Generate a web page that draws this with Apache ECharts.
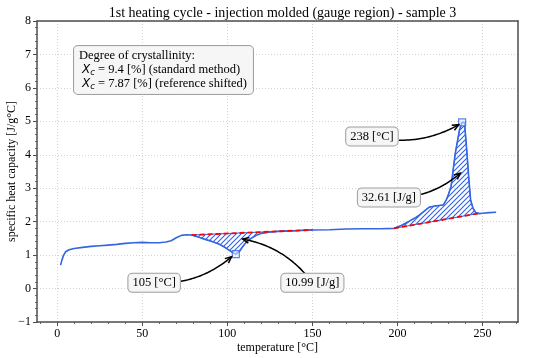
<!DOCTYPE html>
<html><head><meta charset="utf-8">
<script src="https://cdn.jsdelivr.net/npm/echarts@6/dist/echarts.min.js"></script>
<style>html,body{margin:0;padding:0;background:#fff}#c{width:550px;height:358px}</style>
</head><body><div id="c"></div>
<script>
// ---------- data ----------
const temperature = [2.0,2.8,3.8,5.0,7.0,10,15,20,25,30,35,40,45,50,55,60,64,67,70,73,76,79,83,87,91,95,98,101,103,105,107,109,111,114,117,120,125,130,140,150,160,170,180,190,198,202,206.5,210,213,218.5,222,227,228.7,230,231.5,234,236.5,238,239.4,240.7,242,243,244.4,246,248,250,254,258];
const heatCapacity = [0.70,0.85,1.00,1.10,1.16,1.20,1.23,1.26,1.28,1.30,1.32,1.35,1.37,1.38,1.37,1.37,1.39,1.43,1.52,1.59,1.61,1.60,1.54,1.47,1.41,1.33,1.25,1.15,1.08,1.03,1.10,1.25,1.38,1.50,1.59,1.65,1.69,1.71,1.73,1.75,1.76,1.78,1.79,1.79,1.80,1.88,2.00,2.10,2.20,2.43,2.47,2.50,2.65,2.82,3.05,4.05,4.75,4.97,4.97,4.15,3.25,2.65,2.40,2.27,2.24,2.25,2.27,2.28];
const baselineStartT = [79, 198];
const baselineStartCp = [1.60, 1.80];
const baselineEndT = [150, 248];
const baselineEndCp = [1.755, 2.25];
const peakT = [105, 238];
const peakCp = [1.03, 4.97];
const enthalpy = [10.99, 32.61];
const crystallinity = [9.4, 7.87];
const xTicks = [0, 50, 100, 150, 200, 250];
const xMinorTicks = [-10,10,20,30,40,60,70,80,90,110,120,130,140,160,170,180,190,210,220,230,240,260,270];
const xMin = -11.85, xMax = 270.85;
const yMin = -1, yMax = 8;
// annotation targets (data coords) and label centres
const annTargets = [[102.5,0.95],[109,1.48],[236,4.9],[237,3.45]];
const annLabelAt = [[57,0.17],[150,0.17],[185,4.55],[195,2.72]];

// ---------- styling ----------
const BLUE = '#3366e0';
const HATCH = '#2f62ee';
const FONT = '"Liberation Serif", "Times New Roman", serif';
const annTexts = [
  peakT[0] + ' [°C]', enthalpy[0].toFixed(2) + ' [J/g]',
  peakT[1] + ' [°C]', enthalpy[1].toFixed(2) + ' [J/g]'
];

function hatchCanvas() {
  const s = 5, c = document.createElement('canvas');
  c.width = s; c.height = s;
  const g = c.getContext('2d');
  g.strokeStyle = HATCH; g.lineWidth = 1.1;
  g.beginPath();
  g.moveTo(0, s); g.lineTo(s, 0);
  g.moveTo(-1, 1); g.lineTo(1, -1);
  g.moveTo(s - 1, s + 1); g.lineTo(s + 1, s - 1);
  g.stroke();
  return c;
}
const hatch = hatchCanvas();

const mctx = document.createElement('canvas').getContext('2d');
mctx.font = '12.5px ' + FONT;

const curve = temperature.map((t, i) => [t, heatCapacity[i]]);

const chart = echarts.init(document.getElementById('c'), null, {renderer: 'canvas'});

const axisLineStyle = {color: '#4d4d4d', width: 1.5};
const gridLine = {show: true, lineStyle: {color: '#c8c8c8', width: 0.8, type: [1, 2]}};

chart.setOption({
  animation: false,
  backgroundColor: '#fff',
  title: {
    text: '1st heating cycle - injection molded (gauge region) - sample 3',
    left: 277.5, textAlign: 'center', top: 1,
    textStyle: {fontFamily: FONT, fontSize: 14, fontWeight: 'normal', color: '#000'}
  },
  grid: {left: 37, right: 32, top: 21, bottom: 36, containLabel: false, outerBoundsMode: 'none'},
  xAxis: [
    {
      type: 'value', min: xMin, max: xMax, position: 'bottom',
      name: 'temperature [°C]', nameLocation: 'middle', nameGap: 20, nameMoveOverlap: false,
      nameTextStyle: {fontFamily: FONT, fontSize: 12, color: '#000'},
      axisLine: {show: true, onZero: false, lineStyle: axisLineStyle},
      axisTick: {show: true, customValues: xTicks, length: 4, lineStyle: {color: '#4d4d4d', width: 1}},
      axisLabel: {customValues: xTicks, fontFamily: FONT, fontSize: 12, color: '#000', margin: 6},
      splitLine: gridLine
    },
    {
      type: 'value', min: xMin, max: xMax, position: 'bottom',
      axisLine: {show: false, onZero: false},
      axisTick: {show: true, customValues: xMinorTicks, length: 2, lineStyle: {color: '#4d4d4d', width: 0.8}},
      axisLabel: {show: false}, splitLine: {show: false}
    },
    {
      type: 'value', min: xMin, max: xMax, position: 'top',
      axisLine: {show: true, onZero: false, lineStyle: axisLineStyle},
      axisTick: {show: false}, axisLabel: {show: false}, splitLine: {show: false}
    }
  ],
  yAxis: [
    {
      type: 'value', min: yMin, max: yMax, interval: 1, position: 'left',
      name: 'specific heat capacity [J/g°C]', nameLocation: 'middle', nameGap: 19, nameMoveOverlap: false,
      nameTextStyle: {fontFamily: FONT, fontSize: 12, color: '#000'},
      axisLine: {show: true, onZero: false, lineStyle: axisLineStyle},
      axisTick: {show: true, length: 4, lineStyle: {color: '#4d4d4d', width: 1}},
      minorTick: {show: true, splitNumber: 5, length: 2, lineStyle: {color: '#4d4d4d', width: 0.8}},
      axisLabel: {fontFamily: FONT, fontSize: 12, color: '#000', margin: 6,
        formatter: v => v < 0 ? '\u2212' + (-v) : String(v)},
      splitLine: gridLine
    },
    {
      type: 'value', min: yMin, max: yMax, interval: 1, position: 'right',
      axisLine: {show: true, onZero: false, lineStyle: axisLineStyle},
      axisTick: {show: false}, axisLabel: {show: false}, splitLine: {show: false}
    }
  ],
  graphic: [{
    type: 'text', left: 73, top: 45, z: 100,
    style: {
      text: '{n|Degree of crystallinity:}\n {x|X}{s|c}{n| = ' + crystallinity[0] + ' [%] (standard method)}\n {x|X}{s|c}{n| = ' + crystallinity[1] + ' [%] (reference shifted)}',
      font: '12px ' + FONT, fill: '#000',
      backgroundColor: 'rgba(245,245,245,0.95)', borderColor: '#a0a0a0', borderWidth: 1, borderRadius: 4,
      padding: [3, 6, 3, 5],
      rich: {
        n: {fontFamily: FONT, fontSize: 12.5, lineHeight: 14, fill: '#000'},
        x: {fontFamily: '"DejaVu Sans"', fontStyle: 'italic', fontSize: 12, lineHeight: 14, fill: '#000'},
        s: {fontFamily: '"DejaVu Sans"', fontStyle: 'italic', fontSize: 8.5, lineHeight: 14, verticalAlign: 'bottom', padding: [4, 0, 0, 0], fill: '#000'}
      }
    }
  }],
  series: [
    {
      type: 'custom', name: 'integration', xAxisIndex: 0, yAxisIndex: 0, z: 2,
      data: baselineStartT.map((t, i) => [t, baselineStartCp[i]]),
      renderItem: function (params, api) {
        const i = params.dataIndex;
        const t0 = baselineStartT[i], t1 = baselineEndT[i];
        const pts = [api.coord([t0, baselineStartCp[i]])];
        curve.forEach(p => { if (p[0] > t0 && p[0] < t1) pts.push(api.coord(p)); });
        pts.push(api.coord([t1, baselineEndCp[i]]));
        return {
          type: 'polygon', shape: {points: pts},
          style: {fill: {image: hatch, repeat: 'repeat'}, stroke: BLUE, lineWidth: 1}
        };
      }
    },
    {
      type: 'line', name: 'cp', data: curve, showSymbol: false, z: 3,
      lineStyle: {color: BLUE, width: 1.6}, itemStyle: {color: BLUE}
    },
    ...baselineStartT.map((t, i) => ({
      type: 'line', name: 'baseline' + i, z: 4, showSymbol: false,
      data: [[t, baselineStartCp[i]], [baselineEndT[i], baselineEndCp[i]]],
      lineStyle: {color: '#ff0000', width: 1.8, type: [5, 3]}
    })),
    {
      type: 'scatter', name: 'peaks', z: 5,
      data: peakT.map((t, i) => [t, peakCp[i]]),
      symbol: 'rect', symbolSize: 7,
      itemStyle: {color: 'rgba(230,236,255,0.7)', borderColor: BLUE, borderWidth: 1.2}
    },
    {
      type: 'custom', name: 'annotations', z: 10,
      data: annTargets,
      renderItem: function (params, api) {
        const i = params.dataIndex;
        const end = api.coord(annTargets[i]);
        const c = api.coord(annLabelAt[i]);
        const txt = annTexts[i];
        const w = mctx.measureText(txt).width;
        const hw = w / 2 + 5, hh = 9;
        const rad = 0.2;
        const dx = end[0] - c[0], dY = end[1] - c[1];
        const cp = [(c[0] + end[0]) / 2 - rad * dY, (c[1] + end[1]) / 2 + rad * dx];
        const pts = [];
        for (let k = 0; k <= 60; k++) {
          const t = k / 60;
          const x = (1 - t) * (1 - t) * c[0] + 2 * (1 - t) * t * cp[0] + t * t * end[0];
          const y = (1 - t) * (1 - t) * c[1] + 2 * (1 - t) * t * cp[1] + t * t * end[1];
          if (Math.abs(x - c[0]) > hw || Math.abs(y - c[1]) > hh) pts.push([x, y]);
        }
        const a = pts[pts.length - 1], b = pts[pts.length - 4];
        const ang = Math.atan2(a[1] - b[1], a[0] - b[0]);
        const L = 7, A = 0.42;
        const head = [
          [a[0] - L * Math.cos(ang - A), a[1] - L * Math.sin(ang - A)],
          a,
          [a[0] - L * Math.cos(ang + A), a[1] - L * Math.sin(ang + A)]
        ];
        return {
          type: 'group',
          children: [
            {type: 'polyline', shape: {points: pts}, style: {stroke: '#000', lineWidth: 1.5, fill: null}},
            {type: 'polyline', shape: {points: head}, style: {stroke: '#000', lineWidth: 1.5, fill: null}},
            {type: 'text', x: c[0], y: c[1], z2: 10,
              style: {text: txt, font: '12.5px ' + FONT, fill: '#000', align: 'center', verticalAlign: 'middle',
                backgroundColor: 'rgba(245,245,245,0.95)', borderColor: '#a0a0a0', borderWidth: 1, borderRadius: 4,
                padding: [3, 4, 2, 4]}}
          ]
        };
      }
    }
  ]
});
</script>
</body></html>
